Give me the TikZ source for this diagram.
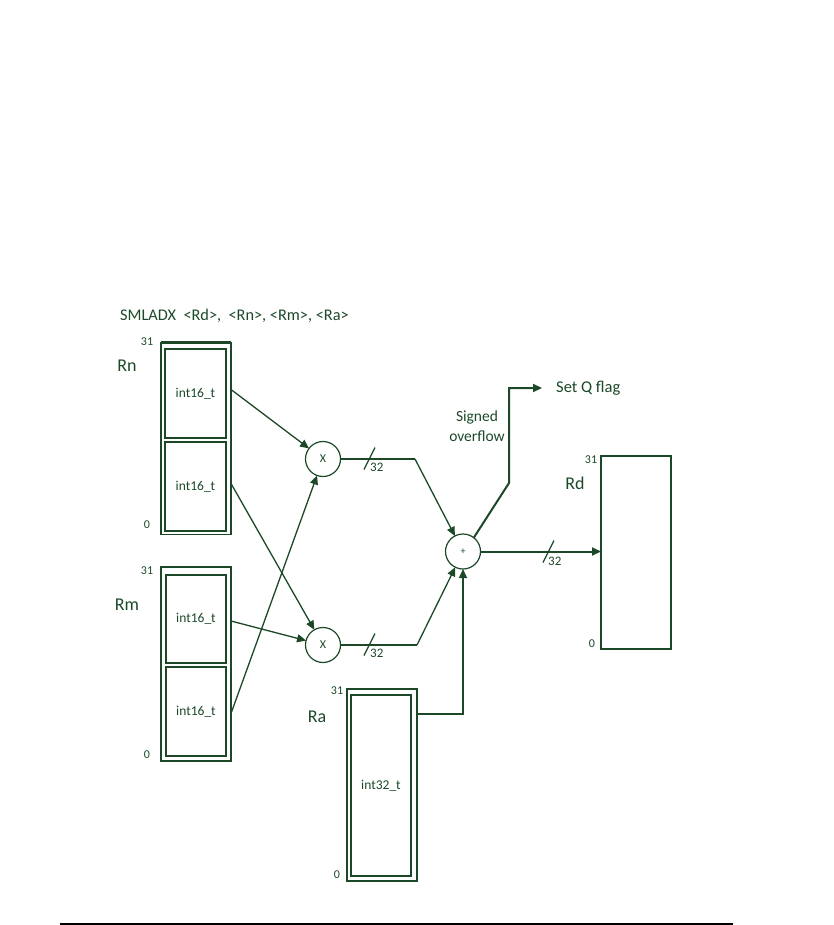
\documentclass[tikz,border=0pt]{standalone}
\usepackage{fontspec}
\setmainfont{Carlito}
\usetikzlibrary{calc,arrows.meta}
\definecolor{dg}{RGB}{28,72,40}
\begin{document}
\begin{tikzpicture}[x=1pt,y=-1pt,
  every node/.style={text=dg},
  box/.style={draw=dg, line width=1.2pt, rectangle, inner sep=0pt, outer sep=0pt},
  op/.style={draw=dg, line width=1.2pt, circle, minimum size=35pt, inner sep=0pt, outer sep=0pt},
  wire/.style={draw=dg, line width=1.3pt},
  thick wire/.style={draw=dg, line width=2pt},
  arr/.style={-{Triangle[length=9pt,width=8pt]}},
  bit/.style={font=\fontsize{12}{14}\selectfont, inner sep=0pt},
  reg/.style={font=\fontsize{18}{20}\selectfont, inner sep=0pt},
  typ/.style={font=\fontsize{13.5}{15}\selectfont, inner sep=0pt},
  wlab/.style={font=\fontsize{13}{15}\selectfont, inner sep=0pt, anchor=north west}
]
\useasboundingbox (0,0) rectangle (834,925);

% title
\node[anchor=west, inner sep=0pt, font=\fontsize{16.3}{19}\selectfont] (title) at (120,316) {SMLADX\ \ <Rd>,\ \ <Rn>, <Rm>, <Ra>};

% Rn
\node[box, minimum width=70pt, minimum height=192pt] (rn) at (196,438.5) {};
\draw[dg, line width=2.2pt] (rn.north west) -- (rn.north east);
\node[box, minimum width=61pt, minimum height=89pt, typ] (rnA) at (195.5,393.5) {int16\_t};
\node[box, minimum width=61pt, minimum height=89pt, typ] (rnB) at (195.5,486.5) {int16\_t};
\node[bit] (rn31) at (147,342) {31};
\node[bit] (rn0) at (147,525) {0};
\node[reg] (rnl) at (127,366) {Rn};

% Rm
\node[box, minimum width=70pt, minimum height=194pt] (rm) at (196,664) {};
\draw[dg, line width=2.2pt] (rm.south west) -- (rm.south east);
\node[box, minimum width=60pt, minimum height=88pt, typ] (rmA) at (196,619) {int16\_t};
\node[box, minimum width=60pt, minimum height=89pt, typ] (rmB) at (196,711.5) {int16\_t};
\node[bit] (rm31) at (147,571) {31};
\node[bit] (rm0) at (147,755) {0};
\node[reg] (rml) at (127,605) {Rm};

% multipliers and adder
\node[op, font=\fontsize{12}{14}\selectfont] (m1) at (323,459) {X};
\node[op, font=\fontsize{12}{14}\selectfont] (m2) at (323,645) {X};
\node[op, font=\fontsize{10}{12}\selectfont] (add) at (463,551.5) {+};

% Rd
\node[box, minimum width=70pt, minimum height=193pt] (rd) at (636,552.5) {};
\draw[dg, line width=2.2pt] (rd.north west) -- (rd.north east);
\node[bit] (rd31) at (591,460) {31};
\node[bit] (rd0) at (592,644) {0};
\node[reg] (rdl) at (575,483) {Rd};

% Ra
\node[box, minimum width=70pt, minimum height=192pt] (ra) at (382,785) {};
\draw[dg, line width=2.4pt] (ra.north west) -- (ra.south west);
\node[box, minimum width=60pt, minimum height=181pt, typ] (raA) at (381,785.5) {int32\_t};
\node[bit] (ra31) at (337,691) {31};
\node[bit] (ra0) at (337,875) {0};
\node[reg] (ral) at (317,717) {Ra};

% crossing wires
\draw[wire, arr] (rnA.east -| rn.east) ++(0,-4) -- (m1);
\draw[wire, arr] (rnB.east -| rn.east) ++(0,-3) -- (m2);
\draw[wire, arr] (rmA.east -| rm.east) ++(0,2) -- (m2);
\draw[wire, arr] (rmB.east -| rm.east) ++(0,2) -- (m1);

% multiplier outputs
\coordinate (k1) at (415,459);
\coordinate (k2) at (417,645);
\draw[wire] (m1) -- (k1);
\draw[wire, arr] (k1) -- (add);
\draw[wire] (m2) -- (k2);
\draw[wire, arr] (k2) -- (add);
\draw[wire] (364,469.5) -- (375,447.5);
\node[wlab] (w1) at (370,463) {32};
\draw[wire] (364,655.5) -- (375,633.5);
\node[wlab] (w2) at (370,649) {32};

% Ra to adder
\coordinate (raout) at ($(ra.north east)+(0,25)$);
\draw[wire, arr] (raout) -| (add.south);

% adder to Rd
\draw[thick wire, arr] (add.east) -- (add.east -| rd.west);
\draw[wire] (543,562.5) -- (554,540.5);
\node[wlab] (w3) at (548,557) {32};

% overflow
\coordinate (ov1) at (509,483);
\coordinate (ov2) at (509,388);
\coordinate (qf) at (542,388);
\draw[thick wire, arr] (add.52) -- (ov1) -- (ov2) -- (qf);
\node[anchor=west, inner sep=0pt, font=\fontsize{16.5}{19}\selectfont] (setq) at (556,388) {Set Q flag};
\node[align=center, inner sep=0pt, font=\fontsize{15.5}{19.5}\selectfont] (sov) at (477,426) {Signed\\overflow};

% page rule
\draw[black, line width=1.4pt] (60,924) -- (733,924);
\end{tikzpicture}
\end{document}
